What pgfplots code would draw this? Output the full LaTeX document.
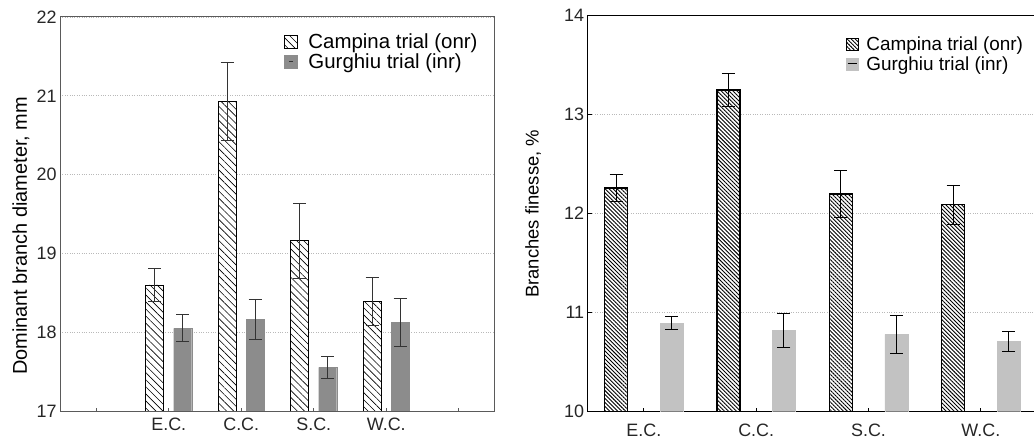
\documentclass[border=0pt]{standalone}
\usepackage{fontspec}
\setmainfont{Liberation Sans}
\usepackage{pgfplots}
\pgfplotsset{compat=1.18}
\usetikzlibrary{patterns.meta}
\definecolor{gurA}{HTML}{8C8C8C}
\definecolor{gurB}{HTML}{C2C2C2}
\definecolor{axA}{HTML}{5A5A5A}
\newcommand{\tfont}{\fontsize{18}{20}\selectfont}
\newcommand{\llfont}{\fontsize{20}{22}\selectfont}
\newcommand{\rlfont}{\fontsize{18.5}{20}\selectfont}
\newcommand{\lgfont}{\fontsize{20.5}{22}\selectfont}
\newcommand{\rgfont}{\fontsize{19}{21}\selectfont}
\begin{document}
\begin{tikzpicture}
\useasboundingbox (0,0) rectangle (1034bp,439bp);
% ---------------- left panel ----------------
\begin{axis}[
  at={(60bp,28bp)}, anchor=south west,
  scale only axis, width=435bp, height=394bp,
  xmin=-0.5, xmax=5.5, ymin=17, ymax=22,
  xtick={0,1,2,3,4,5}, xticklabels={,E.C.,C.C.,S.C.,W.C.,},
  ytick={17,18,19,20,21,22},
  ybar=10bp, bar width=18bp,
  ymajorgrids, grid style={dotted, gray!55, line width=0.6bp},
  axis line style={axA, line width=1bp},
  xtick style={axA, line width=0.8bp}, ytick style={draw=none},
  major tick length=3bp, tick align=inside,
  xtick pos=bottom, ytick pos=left,
  /pgf/number format/assume math mode=true,
  ticklabel style={font=\tfont, text=black!85},
  xticklabel style={yshift=-3bp},
  ylabel={Dominant branch diameter, mm},
  every axis y label/.style={at={([xshift=-39bp,yshift=-22bp]rel axis cs:0,0.5)}, rotate=90, anchor=center, font=\llfont},
  legend image code/.code={\draw[#1] (0bp,-6.5bp) rectangle (13bp,6.5bp);},
  legend style={at={(0.508,0.967)}, anchor=north west, draw=none, fill=none, font=\lgfont,
    row sep=0.5bp, nodes={inner sep=1.5bp},
    /tikz/every odd column/.append style={column sep=9bp}},
  legend cell align=left,
]
\addplot[draw=black, line width=0.8bp, fill=white,
  postaction={pattern={Lines[angle=-45,distance=5bp,line width=0.6bp]}},
  error bars/.cd, y dir=both, y explicit,
  error bar style={black!80, line width=0.8bp},
  error mark options={rotate=90, black!80, line width=0.8bp, mark size=6.5bp},
  ] coordinates {
  (1,18.60) +- (0,0.21)
  (2,20.93) +- (0,0.50)
  (3,19.16) +- (0,0.48)
  (4,18.39) +- (0,0.30)
};
\addlegendentry{Campina trial (onr)}
\addplot[draw=gurA, fill=gurA,
  legend image code/.code={\fill[gurA] (0bp,-6.5bp) rectangle (13bp,6.5bp); \draw[black!80, line width=0.8bp] (4.5bp,0.5bp)--(8.5bp,0.5bp);},
  error bars/.cd, y dir=both, y explicit,
  error bar style={black!80, line width=0.8bp},
  error mark options={rotate=90, black!80, line width=0.8bp, mark size=6.5bp},
  ] coordinates {
  (1,18.05) +- (0,0.17)
  (2,18.16) +- (0,0.255)
  (3,17.555) +- (0,0.135)
  (4,18.125) +- (0,0.305)
};
\addlegendentry{Gurghiu trial (inr)}
\end{axis}
% ---------------- right panel ----------------
\begin{axis}[
  at={(587.7bp,27.3bp)}, anchor=south west,
  scale only axis, width=449.3bp, height=396bp,
  xmin=0.5, xmax=4.5, ymin=10, ymax=14,
  xtick={1,2,3,4}, xticklabels={E.C.,C.C.,S.C.,W.C.},
  ytick={10,11,12,13,14},
  ybar=32.5bp, bar width=23bp,
  ymajorgrids, grid style={dotted, gray!55, line width=0.6bp},
  axis line style={black, line width=1bp},
  tick style={black, line width=0.8bp},
  major tick length=4bp, tick align=inside,
  xtick pos=bottom, ytick pos=left,
  /pgf/number format/assume math mode=true,
  ticklabel style={font=\tfont, text=black!85},
  xticklabel style={yshift=-9bp},
  ylabel={Branches finesse, \%},
  every axis y label/.style={at={([xshift=-54.7bp]rel axis cs:0,0.5)}, rotate=90, anchor=center, font=\rlfont},
  legend image code/.code={\draw[#1] (0bp,-6bp) rectangle (12bp,6bp);},
  legend style={at={(0.567,0.955)}, anchor=north west, draw=none, fill=none, font=\rgfont,
    row sep=1bp, nodes={inner sep=1.5bp},
    /tikz/every odd column/.append style={column sep=6bp}},
  legend cell align=left,
]
\addplot[draw=black, line width=1.2bp, fill=white,
  postaction={pattern={Lines[angle=-45,distance=2.8bp,line width=0.9bp]}},
  error bars/.cd, y dir=both, y explicit,
  error bar style={black, line width=0.9bp},
  error mark options={rotate=90, black, line width=0.9bp, mark size=6.5bp},
  ] coordinates {
  (1,12.26) +- (0,0.14)
  (2,13.25) +- (0,0.17)
  (3,12.20) +- (0,0.24)
  (4,12.09) +- (0,0.20)
};
\addlegendentry{Campina trial (onr)}
\addplot[draw=gurB, fill=gurB,
  legend image code/.code={\fill[gurB] (0bp,-6bp) rectangle (12bp,6bp); \draw[black, line width=0.9bp] (1.5bp,0.5bp)--(10.5bp,0.5bp);},
  error bars/.cd, y dir=both, y explicit,
  error bar style={black, line width=0.9bp},
  error mark options={rotate=90, black, line width=0.9bp, mark size=6.5bp},
  ] coordinates {
  (1,10.895) +- (0,0.065)
  (2,10.82) +- (0,0.17)
  (3,10.78) +- (0,0.19)
  (4,10.71) +- (0,0.10)
};
\addlegendentry{Gurghiu trial (inr)}
\end{axis}
\end{tikzpicture}
\end{document}
